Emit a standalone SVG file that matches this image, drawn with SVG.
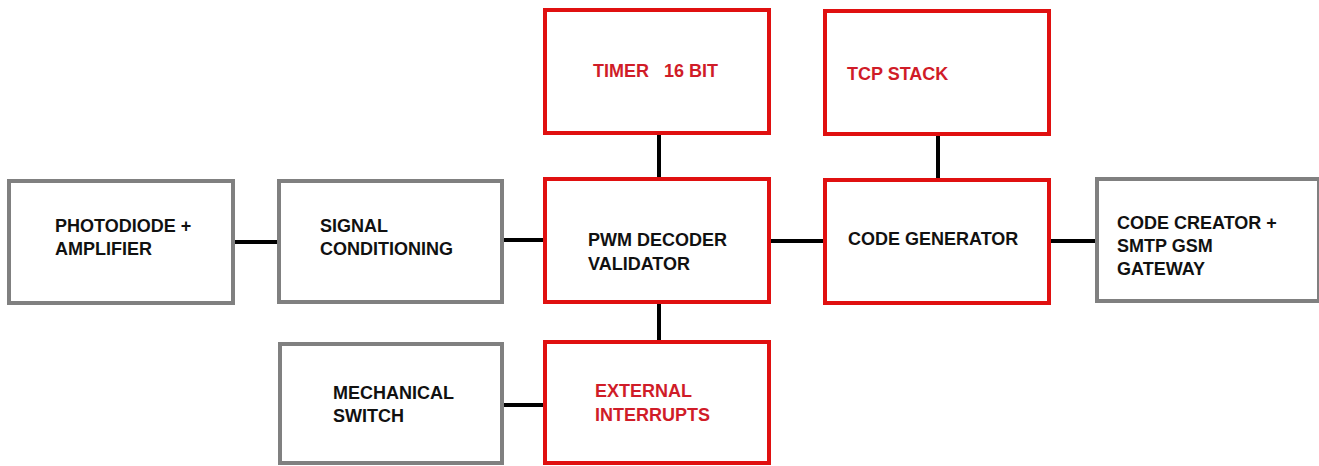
<svg xmlns="http://www.w3.org/2000/svg" width="1319" height="466" viewBox="0 0 1319 466">
<style>
.g{fill:#fff;stroke:#808080;stroke-width:4}
.r{fill:#fff;stroke:#e01010;stroke-width:4}
text{font-family:"Liberation Sans",Arial,sans-serif;font-weight:bold;font-size:18px}
.tk{fill:#111}
.tr{fill:#d01c28}
.c line{stroke:#000;stroke-width:4}
</style>
<rect width="1319" height="466" fill="#fff"/>
<g class="c" id="connectors">
<line x1="233" y1="242" x2="279" y2="242"/>
<line x1="502" y1="240" x2="545" y2="240"/>
<line x1="769" y1="241" x2="825" y2="241"/>
<line x1="1049" y1="241" x2="1097" y2="241"/>
<line x1="659" y1="133" x2="659" y2="179"/>
<line x1="938" y1="134" x2="938" y2="180"/>
<line x1="659" y1="302" x2="659" y2="342"/>
<line x1="502" y1="405" x2="545" y2="405"/>
</g>
<g id="photodiode"><rect class="g" x="9" y="181" width="224" height="122"/>
<text class="tk" x="55" y="232">PHOTODIODE +</text><text class="tk" x="55" y="255">AMPLIFIER</text></g>
<g id="signal"><rect class="g" x="279" y="181" width="223" height="121"/>
<text class="tk" x="320" y="232">SIGNAL</text><text class="tk" x="320" y="255">CONDITIONING</text></g>
<g id="pwm"><rect class="r" x="545" y="179" width="224" height="123"/>
<text class="tk" x="588" y="246">PWM DECODER</text><text class="tk" x="588" y="270">VALIDATOR</text></g>
<g id="timer"><rect class="r" x="545" y="10" width="224" height="123"/>
<text class="tr" x="593" y="77" xml:space="preserve">TIMER   16 BIT</text></g>
<g id="tcp"><rect class="r" x="825" y="11" width="224" height="123"/>
<text class="tr" x="847" y="80">TCP STACK</text></g>
<g id="codegen"><rect class="r" x="825" y="180" width="224" height="123"/>
<text class="tk" x="848" y="245">CODE GENERATOR</text></g>
<g id="codecreator"><rect class="g" x="1097" y="179" width="222" height="122"/>
<text class="tk" x="1117" y="229">CODE CREATOR +</text><text class="tk" x="1117" y="252">SMTP GSM</text><text class="tk" x="1117" y="275">GATEWAY</text></g>
<g id="mechanical"><rect class="g" x="280" y="344" width="222" height="119"/>
<text class="tk" x="333" y="399">MECHANICAL</text><text class="tk" x="333" y="422">SWITCH</text></g>
<g id="external"><rect class="r" x="545" y="342" width="224" height="121"/>
<text class="tr" x="595" y="397">EXTERNAL</text><text class="tr" x="595" y="421">INTERRUPTS</text></g>
</svg>
